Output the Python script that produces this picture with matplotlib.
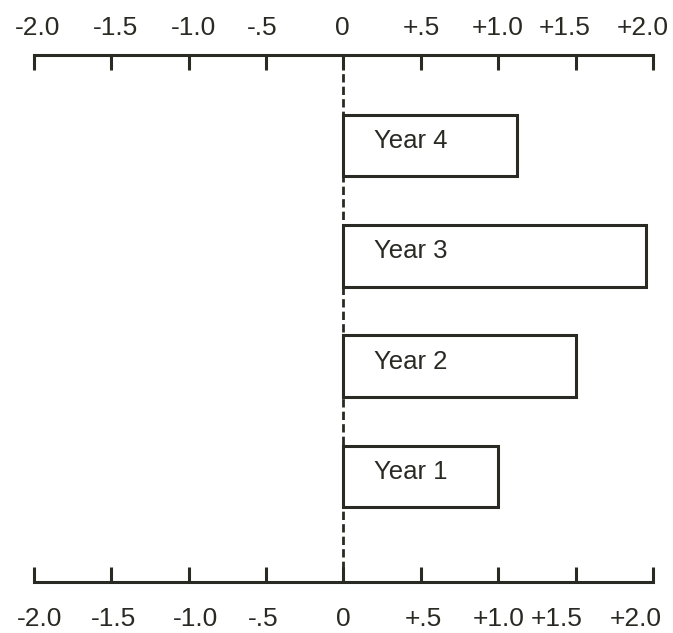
import matplotlib
matplotlib.use("Agg")
import matplotlib.pyplot as plt
from matplotlib.transforms import ScaledTranslation

# values
years = ["Year 1", "Year 2", "Year 3", "Year 4"]
changes = [1.0, 1.5, 1.95, 1.12]
tick_values = [-2.0, -1.5, -1.0, -0.5, 0, 0.5, 1.0, 1.5, 2.0]
tick_labels = ["-2.0", "-1.5", "-1.0", "-.5", "0", "+.5", "+1.0", "+1.5", "+2.0"]

# the hand-set labels sit a little off their ticks (pixels)
top_shift = [4, 4, 5, -4, -1, 0, -1, -11, -11]
bottom_shift = [6, 2, 7, -3, 0, 2, 0, -19, -18]

ink = "#2a2a24"
plt.rcParams['font.family'] = ['Liberation Sans', 'DejaVu Sans']

fig = plt.figure(figsize=(6.73, 6.33), dpi=100)
ax = fig.add_axes([0.0498, 0.0806, 0.9212, 0.8325])

pos = list(range(1, len(years) + 1))
ax.barh(pos, changes, height=0.56, left=0, color="white",
        edgecolor=ink, linewidth=2.2, zorder=3)

for p, name in zip(pos, years):
    ax.text(0.2, p + 0.04, name, fontsize=18.5, color=ink,
            va="center", ha="left", zorder=4)

# dashed zero line
ax.axvline(0, color=ink, lw=2.0, linestyle=(0, (3, 1.5)), zorder=2)

ax.set_xlim(-2.0, 2.0)
ax.set_ylim(0.044, 4.82)

for side in ["left", "right"]:
    ax.spines[side].set_visible(False)
for side in ["top", "bottom"]:
    ax.spines[side].set_linewidth(2.2)
    ax.spines[side].set_color(ink)

ax.set_yticks([])
ax.set_xticks(tick_values)
ax.set_xticklabels(tick_labels)
ax.tick_params(axis="x", direction="in", top=True, bottom=True,
               labeltop=True, labelbottom=True, length=11, width=2.2,
               color=ink, labelcolor=ink, labelsize=19, pad=18)

for tick, dx_top, dx_bot in zip(ax.xaxis.get_major_ticks(), top_shift, bottom_shift):
    tick.label1.set_transform(tick.label1.get_transform() +
                              ScaledTranslation(dx_bot / 100, 0, fig.dpi_scale_trans))
    tick.label2.set_transform(tick.label2.get_transform() +
                              ScaledTranslation(dx_top / 100, -10 / 100, fig.dpi_scale_trans))

fig.savefig("out.png", dpi=100, facecolor="white")
